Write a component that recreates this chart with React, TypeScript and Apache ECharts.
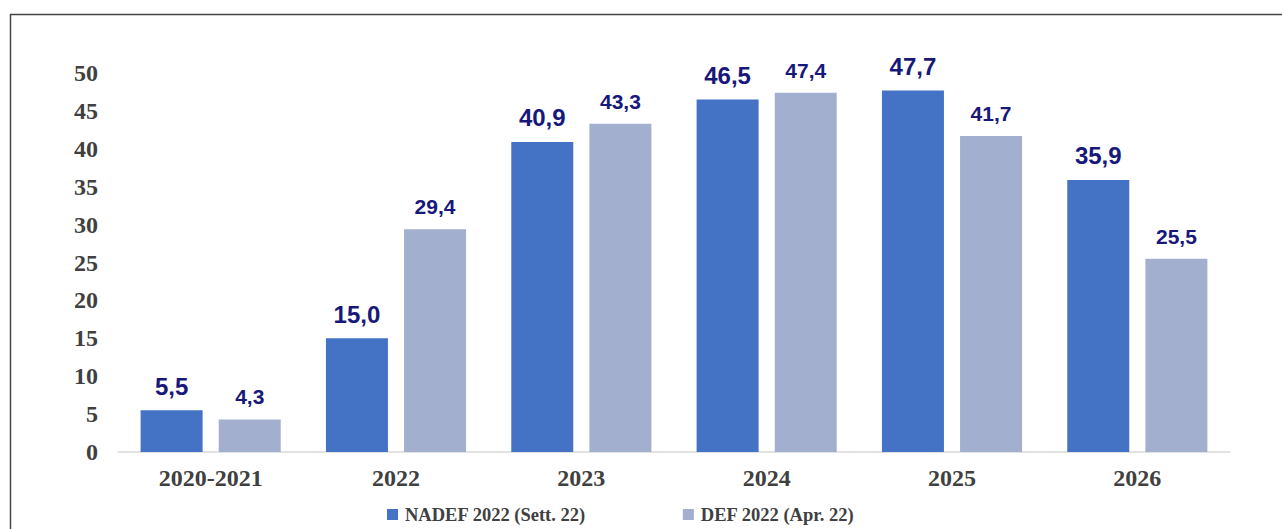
import React, { useEffect, useRef } from "react";
import * as echarts from "echarts";

const categories = ["2020-2021", "2022", "2023", "2024", "2025", "2026"];
const nadef = [5.5, 15.0, 40.9, 46.5, 47.7, 35.9];
const def = [4.3, 29.4, 43.3, 47.4, 41.7, 25.5];
const seriesNames = ["NADEF 2022 (Sett. 22)", "DEF 2022 (Apr. 22)"];
const yTicks = { min: 0, max: 50, interval: 5 };

const fmt = (p: any) => Number(p.value).toFixed(1).replace(".", ",");

export default function App() {
  const ref = useRef<HTMLDivElement>(null);
  useEffect(() => {
    if (!ref.current) return;
    const chart = echarts.init(ref.current, null, { renderer: "svg" });
    chart.setOption({
      animation: false,
      backgroundColor: "#ffffff",
      graphic: [
        {
          type: "rect",
          shape: { x: 10.5, y: 14.5, width: 1300, height: 600 },
          style: { fill: "none", stroke: "#444444", lineWidth: 1.5 },
          silent: true,
        },
      ],
      grid: { left: 118, right: 52, top: 73, bottom: 77, containLabel: false },
      legend: {
        bottom: 0,
        left: 382,
        itemWidth: 11,
        itemHeight: 11,
        itemGap: 97,
        icon: "rect",
        textStyle: {
          fontFamily: "Liberation Serif",
          fontWeight: "bold",
          fontSize: 18.5,
          color: "#404040",
          padding: [0, 0, 0, 2],
        },
        data: seriesNames,
      },
      xAxis: {
        type: "category",
        data: categories,
        axisLine: { lineStyle: { color: "#d9d9d9", width: 1.5 } },
        axisTick: { show: false },
        axisLabel: {
          fontFamily: "Liberation Serif",
          fontWeight: "bold",
          fontSize: 24,
          color: "#404040",
          margin: 14,
        },
      },
      yAxis: {
        type: "value",
        min: yTicks.min,
        max: yTicks.max,
        interval: yTicks.interval,
        splitLine: { show: false },
        axisLine: { show: false },
        axisTick: { show: false },
        axisLabel: {
          fontFamily: "Liberation Serif",
          fontWeight: "bold",
          fontSize: 24,
          color: "#404040",
          margin: 20,
        },
      },
      series: [
        {
          name: seriesNames[0],
          type: "bar",
          data: nadef,
          barWidth: 62,
          barGap: "26%",
          itemStyle: { color: "#4472c4" },
          label: {
            show: true,
            position: "top",
            distance: 12,
            formatter: fmt,
            fontFamily: "Liberation Sans",
            fontWeight: "bold",
            fontSize: 24,
            color: "#17187a",
          },
        },
        {
          name: seriesNames[1],
          type: "bar",
          data: def,
          barWidth: 62,
          itemStyle: { color: "#a2afcf" },
          label: {
            show: true,
            position: "top",
            distance: 12,
            formatter: fmt,
            fontFamily: "Liberation Sans",
            fontWeight: "bold",
            fontSize: 21,
            color: "#17187a",
          },
        },
      ],
    });
    return () => chart.dispose();
  }, []);
  return (
    <div
      ref={ref}
      style={{ position: "absolute", left: 0, top: 0, width: 1282, height: 529 }}
    />
  );
}
